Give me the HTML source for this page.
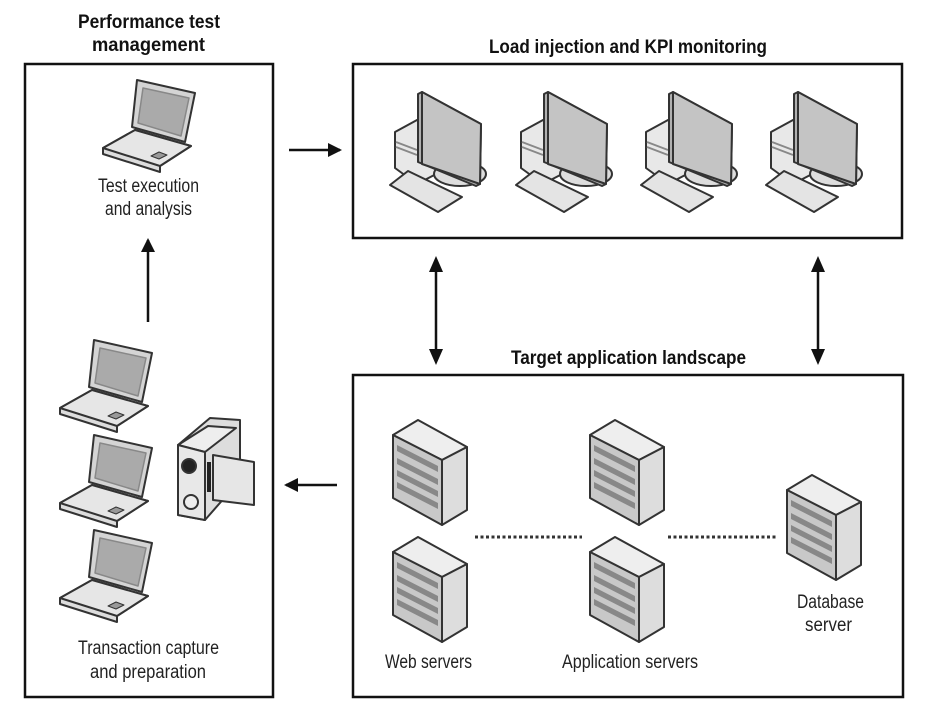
<!DOCTYPE html>
<html><head><meta charset="utf-8"><style>
body{margin:0;background:#fff}
svg{display:block}
text{font-family:"Liberation Sans",sans-serif;fill:#222}
.t{font-size:19px}
.b{font-size:19px;font-weight:bold;fill:#111}
</style></head><body>
<svg width="933" height="722" viewBox="0 0 933 722" xmlns="http://www.w3.org/2000/svg">
<defs>
<marker id="ah" markerWidth="16" markerHeight="16" refX="12" refY="7" orient="auto" markerUnits="userSpaceOnUse">
<path d="M0,0 L14,7 L0,14 z" fill="#111"/></marker>
<g id="laptop" stroke="#333" stroke-width="2" stroke-linejoin="round">
<polygon points="0,68 32,50 88,66 57,86 57,92 0,74" fill="#ddd"/>
<polygon points="0,68 32,50 88,66 57,86" fill="#e6e6e6"/>
<polygon points="34,0 92,13 82,62 29,47" fill="#d4d4d4"/>
<polygon points="40,8 86,18 78,56 35,43" fill="#aaa" stroke="#888" stroke-width="1.5"/>
<polygon points="48,76 56,72 64,75 56,79" fill="#999" stroke-width="1"/>
</g>
<g id="desk" stroke="#333" stroke-width="2" stroke-linejoin="round">
<polygon points="5,40 27,28 50,36 50,80 27,92 5,76" fill="#e8e8e8"/>
<line x1="6" y1="50" x2="27" y2="58" stroke="#888"/><line x1="6" y1="55" x2="27" y2="63" stroke="#888"/>
<ellipse cx="70" cy="82" rx="26" ry="12" fill="#ddd"/>
<polygon points="28,2 32,0 91,32 90,92 86,94 28,70" fill="#b0b0b0"/>
<polygon points="32,0 91,32 90,92 32,72" fill="#c4c4c4"/>
<polygon points="0,93 18,79 72,105 48,120" fill="#e4e4e4"/>
</g>
<g id="srv" stroke="#333" stroke-width="2" stroke-linejoin="round">
<polygon points="0,15 25,0 74,27 49,40" fill="#eee"/>
<polygon points="49,40 74,27 74,90 49,105" fill="#ddd"/>
<polygon points="0,15 49,40 49,105 0,78" fill="#c8c8c8"/>
<g stroke="none" fill="#888">
<polygon points="4,25 45,46 45,52 4,31"/><polygon points="4,38 45,59 45,65 4,44"/>
<polygon points="4,50 45,71 45,77 4,56"/><polygon points="4,62 45,83 45,89 4,68"/>
</g>
</g>
</defs>
<rect x="25" y="64" width="248" height="633" fill="none" stroke="#111" stroke-width="2.5"/>
<rect x="353" y="64" width="549" height="174" fill="none" stroke="#111" stroke-width="2.5"/>
<rect x="353" y="375" width="550" height="322" fill="none" stroke="#111" stroke-width="2.5"/>
<text class="b" x="78" y="28" textLength="142" lengthAdjust="spacingAndGlyphs">Performance test</text>
<text class="b" x="92" y="51" textLength="113" lengthAdjust="spacingAndGlyphs">management</text>
<text class="b" x="489" y="53" textLength="278" lengthAdjust="spacingAndGlyphs">Load injection and KPI monitoring</text>
<text class="b" x="511" y="364" textLength="235" lengthAdjust="spacingAndGlyphs">Target application landscape</text>
<use href="#laptop" x="103" y="80"/>
<text class="t" x="98" y="192" textLength="101" lengthAdjust="spacingAndGlyphs">Test execution</text>
<text class="t" x="105" y="215" textLength="87" lengthAdjust="spacingAndGlyphs">and analysis</text>
<line x1="148" y1="322" x2="148" y2="240" stroke="#111" stroke-width="2.5" marker-end="url(#ah)"/>
<use href="#laptop" x="60" y="340"/>
<use href="#laptop" x="60" y="435"/>
<use href="#laptop" x="60" y="530"/>
<g stroke="#333" stroke-width="2" stroke-linejoin="round">
<polygon points="178,445 210,418 240,420 240,480 205,520 178,515" fill="#ddd"/>
<polygon points="178,445 208,426 236,428 205,452" fill="#eee"/>
<polygon points="178,445 205,452 205,520 178,515" fill="#e8e8e8"/>
<circle cx="189" cy="466" r="7" fill="#222"/>
<circle cx="191" cy="502" r="7" fill="#eee"/>
<rect x="207" y="462" width="4" height="30" fill="#222" stroke="none"/>
<polygon points="213,455 254,462 254,505 213,500" fill="#e6e6e6"/>
</g>
<text class="t" x="78" y="654" textLength="141" lengthAdjust="spacingAndGlyphs">Transaction capture</text>
<text class="t" x="90" y="678" textLength="116" lengthAdjust="spacingAndGlyphs">and preparation</text>
<use href="#desk" x="390" y="92"/>
<use href="#desk" x="516" y="92"/>
<use href="#desk" x="641" y="92"/>
<use href="#desk" x="766" y="92"/>
<line x1="289" y1="150" x2="340" y2="150" stroke="#111" stroke-width="2.5" marker-end="url(#ah)"/>
<line x1="337" y1="485" x2="286" y2="485" stroke="#111" stroke-width="2.5" marker-end="url(#ah)"/>
<line x1="436" y1="270" x2="436" y2="350" stroke="#111" stroke-width="2.5"/>
<path d="M436,256 L429,272 L443,272 z M436,365 L429,349 L443,349 z" fill="#111"/>
<line x1="818" y1="270" x2="818" y2="350" stroke="#111" stroke-width="2.5"/>
<path d="M818,256 L811,272 L825,272 z M818,365 L811,349 L825,349 z" fill="#111"/>
<use href="#srv" x="393" y="420"/>
<use href="#srv" x="393" y="537"/>
<use href="#srv" x="590" y="420"/>
<use href="#srv" x="590" y="537"/>
<use href="#srv" x="787" y="475"/>
<line x1="475" y1="537" x2="582" y2="537" stroke="#333" stroke-width="3" stroke-dasharray="3,2.5"/>
<line x1="668" y1="537" x2="778" y2="537" stroke="#333" stroke-width="3" stroke-dasharray="3,2.5"/>
<text class="t" x="385" y="668" textLength="87" lengthAdjust="spacingAndGlyphs">Web servers</text>
<text class="t" x="562" y="668" textLength="136" lengthAdjust="spacingAndGlyphs">Application servers</text>
<text class="t" x="797" y="608" textLength="67" lengthAdjust="spacingAndGlyphs">Database</text>
<text class="t" x="805" y="631" textLength="47" lengthAdjust="spacingAndGlyphs">server</text>
</svg>
</body></html>
